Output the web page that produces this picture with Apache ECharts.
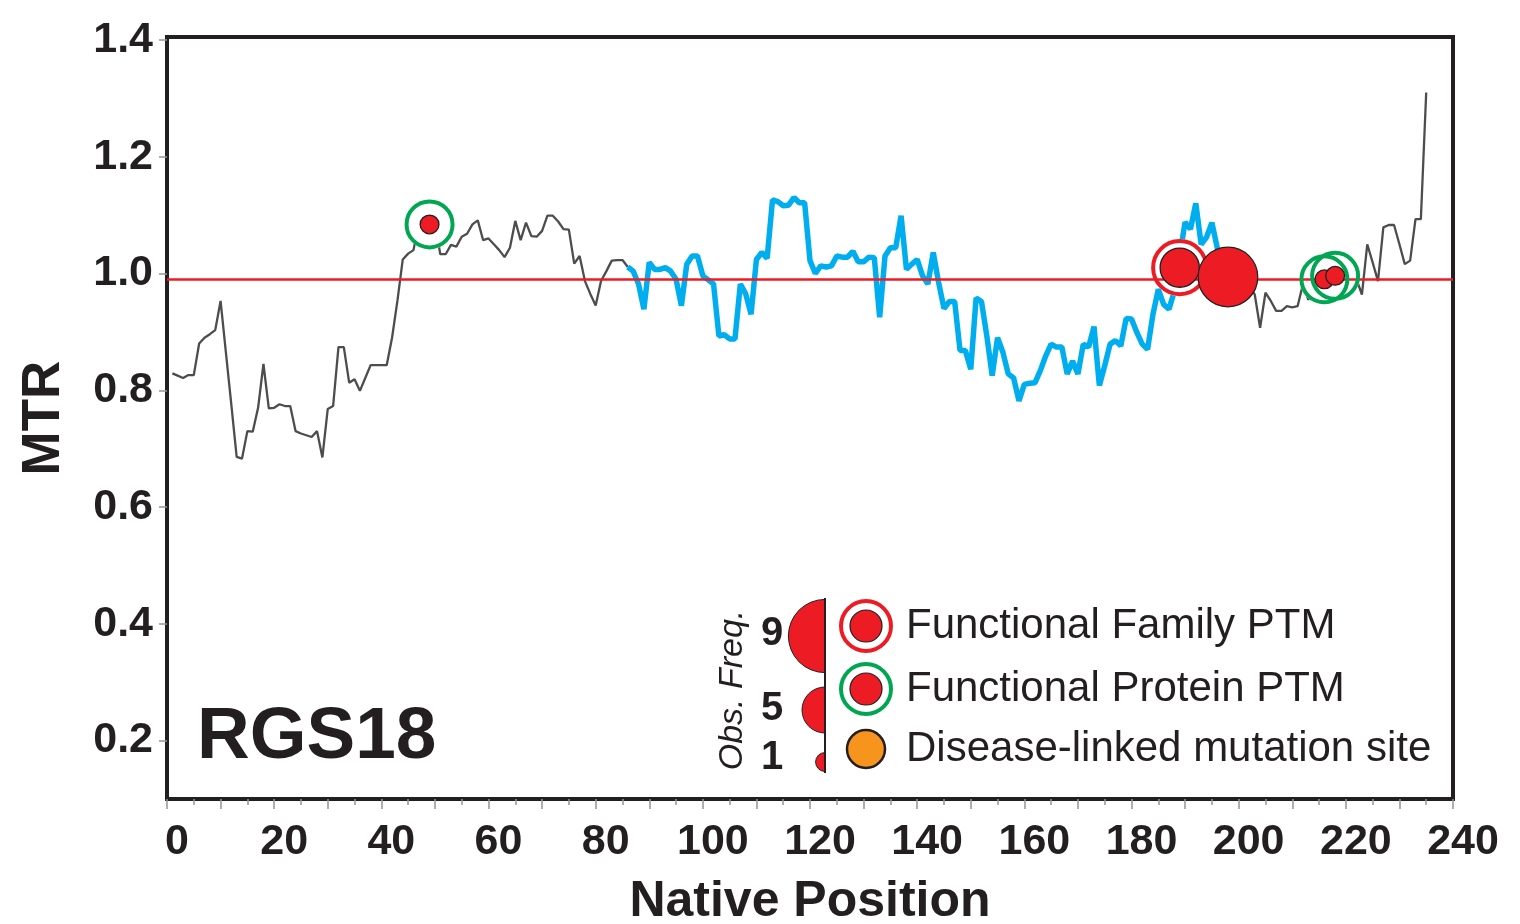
<!DOCTYPE html>
<html><head><meta charset="utf-8">
<script src="https://cdn.jsdelivr.net/npm/echarts@6/dist/echarts.min.js"></script>
<style>html,body{margin:0;padding:0;background:#fff}#c{width:1520px;height:924px}</style>
</head><body><div id="c"></div>
<script>
// MTR value per residue, residues 1..235
const mtr = [
0.829,0.825,0.821,0.826,0.826,0.880,0.890,0.896,0.903,0.953,
0.864,0.776,0.686,0.683,0.730,0.729,0.770,0.845,0.769,0.770,
0.776,0.773,0.773,0.730,0.726,0.723,0.720,0.730,0.685,0.768,
0.773,0.874,0.874,0.813,0.819,0.799,0.821,0.843,0.843,0.843,
0.843,0.890,0.953,1.024,1.034,1.040,1.087,1.090,1.085,1.087,
1.033,1.033,1.049,1.046,1.063,1.068,1.084,1.091,1.057,1.060,
1.050,1.040,1.028,1.044,1.090,1.057,1.087,1.064,1.063,1.073,
1.099,1.099,1.089,1.076,1.075,1.017,1.030,0.987,0.965,0.945,
0.987,1.004,1.022,1.023,1.023,1.011,1.004,0.982,0.939,1.019,
1.007,1.007,1.010,1.004,0.990,0.945,1.016,1.030,1.030,0.996,
0.989,0.982,0.893,0.895,0.888,0.888,0.982,0.965,0.930,1.024,
1.036,1.026,1.126,1.123,1.116,1.117,1.130,1.121,1.121,1.022,
1.000,1.013,1.011,1.013,1.030,1.028,1.028,1.038,1.020,1.020,
1.028,1.027,0.925,1.030,1.044,1.044,1.099,1.007,1.016,1.024,
0.996,0.982,1.036,0.985,0.940,0.952,0.952,0.868,0.868,0.836,
0.958,0.952,0.893,0.825,0.890,0.865,0.828,0.821,0.782,0.810,
0.812,0.813,0.834,0.859,0.879,0.874,0.874,0.828,0.850,0.828,
0.879,0.874,0.909,0.808,0.842,0.879,0.885,0.876,0.923,0.922,
0.899,0.879,0.870,0.930,0.973,0.947,0.939,0.970,1.030,1.088,
1.076,1.120,1.050,1.062,1.087,1.044,1.010,0.990,0.975,0.965,
0.970,0.980,0.964,0.907,0.967,0.953,0.936,0.936,0.944,0.942,
0.944,0.982,0.955,0.970,0.990,1.000,1.010,1.018,1.022,1.022,
1.010,0.990,0.964,1.050,1.019,0.987,1.079,1.083,1.083,1.050,
1.016,1.022,1.093,1.093,1.310
];
const firstResidue = 1;
const conservedRange = [86, 199];
const mtrThreshold = 0.986;

const ptmPositions = [49, 189, 198, 216, 218];
const ptmMTR       = [1.084, 1.010, 0.994, 0.990, 0.996];
const ptmFreq      = [1, 4, 7, 1, 1];
const ptmType      = ['protein', 'family', 'plain', 'protein', 'protein'];

const xTickLabels = [0,20,40,60,80,100,120,140,160,180,200,220,240];
const yTickLabels = [0.2,0.4,0.6,0.8,1.0,1.2,1.4];
const legendFreqs = [9, 5, 1];
const legendLabels = ['Functional Family PTM', 'Functional Protein PTM', 'Disease-linked mutation site'];
const proteinName = 'RGS18';

// ---- styling ----
const DARK = '#231f20', RED = '#ed1c24', GREEN = '#00a651', BLUE = '#00aeef', GRAY = '#4d4d4d', ORANGE = '#f7941d';
const FONT = "'Liberation Sans', Arial, sans-serif";
function dotRadius(f) { return 3.4 * f + 6; }
function ringOuter(f) { return Math.max(25, dotRadius(f) + 9); }
const ringColor = { protein: GREEN, family: RED };

const grayData = [], blueData = [];
mtr.forEach((v, i) => {
  const p = firstResidue + i;
  grayData.push([p, (p <= conservedRange[0] || p >= conservedRange[1]) ? v : '-']);
  if (p >= conservedRange[0] && p <= conservedRange[1]) blueData.push([p, v]);
});

const whiteDisk = [], rings = [], dots = [];
ptmPositions.forEach((p, i) => {
  const f = ptmFreq[i], t = ptmType[i];
  if (ringColor[t]) {
    const R = ringOuter(f);
    whiteDisk.push({ value: [p, ptmMTR[i]], symbolSize: 2 * R });
    rings.push({ value: [p, ptmMTR[i]], symbolSize: 2 * (R - 2), itemStyle: { borderColor: ringColor[t] } });
  }
  dots.push({ value: [p, ptmMTR[i]], symbolSize: 2 * dotRadius(f) });
});

// ---- legend graphics ----
const g = [];
const lx = 825, semiY = [636, 710, 762];
g.push({ type: 'line', shape: { x1: lx, y1: 598, x2: lx, y2: 773 }, style: { stroke: DARK, lineWidth: 2 }, z: 10 });
legendFreqs.forEach((f, i) => {
  g.push({ type: 'sector', shape: { cx: lx, cy: semiY[i], r: dotRadius(f), r0: 0, startAngle: Math.PI / 2, endAngle: Math.PI * 3 / 2 },
    style: { fill: RED, stroke: DARK, lineWidth: 1 }, z: 9 });
  g.push({ type: 'text', x: 772, y: [634, 709, 758][i], style: { text: String(f), font: 'bold 40px ' + FONT, fill: DARK, align: 'center', verticalAlign: 'middle' }, z: 10 });
});
g.push({ type: 'text', x: 733, y: 690, rotation: Math.PI / 2, style: { text: 'Obs. Freq.', font: 'italic 34px ' + FONT, fill: DARK, align: 'center', verticalAlign: 'middle' }, z: 10 });
const legY = [626, 689, 749];
g.push({ type: 'circle', shape: { cx: 866, cy: legY[0], r: 25 }, style: { fill: '#fff', stroke: RED, lineWidth: 4 }, z: 10 });
g.push({ type: 'circle', shape: { cx: 866, cy: legY[0], r: 16 }, style: { fill: RED, stroke: DARK, lineWidth: 1.2 }, z: 11 });
g.push({ type: 'circle', shape: { cx: 866, cy: legY[1], r: 25 }, style: { fill: '#fff', stroke: GREEN, lineWidth: 4 }, z: 10 });
g.push({ type: 'circle', shape: { cx: 866, cy: legY[1], r: 16 }, style: { fill: RED, stroke: DARK, lineWidth: 1.2 }, z: 11 });
g.push({ type: 'circle', shape: { cx: 866, cy: legY[2], r: 19 }, style: { fill: ORANGE, stroke: DARK, lineWidth: 2.5 }, z: 10 });
legendLabels.forEach((t, i) => {
  g.push({ type: 'text', x: 906, y: legY[i], style: { text: t, font: '42px ' + FONT, fill: DARK, align: 'left', verticalAlign: 'middle' }, z: 10 });
});
g.push({ type: 'text', x: 197, y: 738, style: { text: proteinName, font: 'bold 73px ' + FONT, fill: DARK, align: 'left', verticalAlign: 'middle' }, z: 10 });

const chart = echarts.init(document.getElementById('c'), null, { renderer: 'canvas' });
chart.setOption({
  animation: false,
  backgroundColor: '#fff',
  grid: { left: 167, right: 67, top: 37, bottom: 125, show: true, borderColor: DARK, borderWidth: 4,
          backgroundColor: 'transparent', containLabel: false, outerBoundsMode: 'none' },
  xAxis: {
    type: 'value', min: 0, max: 240, interval: 10,
    name: 'Native Position', nameLocation: 'middle', nameGap: 78,
    nameTextStyle: { fontFamily: FONT, fontWeight: 'bold', fontSize: 50, color: DARK },
    axisLine: { show: false },
    axisTick: { show: true, length: 10, lineStyle: { color: '#939598', width: 1.5 } },
    minorTick: { show: true, splitNumber: 2, length: 6, lineStyle: { color: '#939598', width: 1.5 } },
    splitLine: { show: false },
    axisLabel: {
      formatter: v => (xTickLabels.indexOf(v) >= 0 ? String(v) : ''),
      fontFamily: FONT, fontWeight: 'bold', fontSize: 43, color: DARK, margin: 22, padding: [0, 0, 0, 20]
    }
  },
  yAxis: {
    type: 'value', min: 0.1, max: 1.405,
    name: 'MTR', nameLocation: 'middle', nameGap: 96, nameRotate: 90,
    nameTextStyle: { fontFamily: FONT, fontWeight: 'bold', fontSize: 53, color: DARK },
    axisLine: { show: false },
    splitLine: { show: false },
    axisTick: { show: true, length: 8, customValues: yTickLabels, lineStyle: { color: '#939598', width: 1.5 } },
    axisLabel: {
      customValues: yTickLabels, formatter: v => v.toFixed(1),
      fontFamily: FONT, fontWeight: 'bold', fontSize: 43, color: DARK, margin: 14
    }
  },
  graphic: g,
  series: [
    { type: 'line', data: grayData, symbol: 'none', connectNulls: false, z: 2,
      lineStyle: { color: GRAY, width: 2.3 },
      markLine: { silent: true, symbol: 'none', label: { show: false },
        lineStyle: { color: RED, width: 2.5, type: 'solid' }, data: [{ yAxis: mtrThreshold }] } },
    { type: 'line', data: blueData, symbol: 'none', z: 3, lineStyle: { color: BLUE, width: 5.5 } },
    { type: 'scatter', data: whiteDisk, z: 4, itemStyle: { color: '#fff', opacity: 1 } },
    { type: 'scatter', data: rings, z: 5, itemStyle: { color: 'rgba(0,0,0,0)', borderWidth: 4, opacity: 1 } },
    { type: 'scatter', data: dots, z: 6, itemStyle: { color: RED, borderColor: DARK, borderWidth: 1.3, opacity: 1 } }
  ]
});
</script></body></html>
